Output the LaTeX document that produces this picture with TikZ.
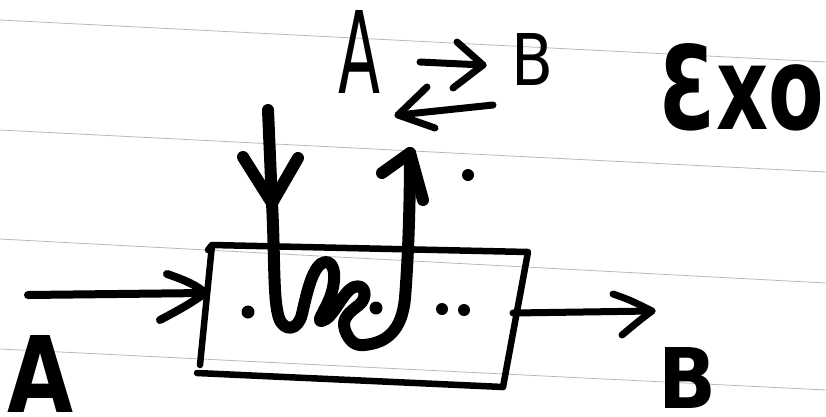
\documentclass[tikz,border=0pt]{standalone}
\usepackage{graphicx}
\usepackage{fontspec}
\newfontfamily\hand{DejaVu Sans}
\begin{document}
\begin{tikzpicture}[x=1pt,y=-1pt,
  pen/.style={line width=#1, line cap=round, line join=round, black},
  pen/.default=7,
  rule/.style={gray!55, line width=0.8pt},
  dot/.style={black},
  letter/.style={inner sep=0pt, outer sep=0pt, font=\hand}]
\useasboundingbox (0,0) rectangle (826,416);
\fill[white] (0,0) rectangle (826,416);
% ruled paper lines
\foreach \a/\b in {20/62,130/172,239/283,349/390}
  \draw[rule] (0,\a) -- (826,\b);

% box
\coordinate (TL) at (212,245);
\coordinate (TR) at (528,252);
\coordinate (BR) at (503,387);
\coordinate (BL) at (197,373);
\coordinate (LB) at (200,365);
\draw[pen=6.5] (208,250) -- (TL) -- (TR) -- (BR);
\draw[pen=6.5] (TL) -- (LB);
\draw[pen=6.5] (BL) -- (BR);

% input arrow
\coordinate (inStart) at (28,295);
\coordinate (inTip) at (205,293);
\draw[pen=8] (inStart) -- (inTip);
\draw[pen=8] (167,274) .. controls (185,280) and (198,286) .. (inTip)
  .. controls (192,303) and (175,312) .. (160,320);

% output arrow
\coordinate (outStart) at (513,313);
\coordinate (outTip) at (652,311);
\draw[pen=7] (outStart) -- (outTip);
\draw[pen=7] (613,294) .. controls (630,300) .. (outTip) .. controls (640,320) .. (622,335);

% U shaped flow with scribble
\coordinate (uIn) at (268,110);
\coordinate (uInTip) at (272,203);
\coordinate (uOut) at (410,153);
\draw[pen=12] (uIn) -- (uInTip) .. controls (275,260) and (273,300) .. (279,318)
  .. controls (284,332) and (298,331) .. (302,314)
  .. controls (307,292) and (313,264) .. (325,262)
  .. controls (337,261) and (336,284) .. (329,300)
  .. controls (324,312) and (316,322) .. (322,321)
  .. controls (334,318) and (342,292) .. (354,287)
  .. controls (366,283) and (368,298) .. (359,305)
  .. controls (350,312) and (341,318) .. (345,330)
  .. controls (349,341) and (355,346) .. (364,345)
  .. controls (387,343) and (402,330) .. (405,298)
  .. controls (408,260) and (410,210) .. (uOut);
\draw[pen=12] (243,157) -- (uInTip) -- (298,158);
\draw[pen=12] (382,173) -- (uOut) -- (423,200);

% dots
\fill[dot] (248,312) circle [radius=6.5];
\fill[dot] (376,308) circle [radius=6.5];
\fill[dot] (442,309) circle [radius=6];
\fill[dot] (464,310) circle [radius=6];
\fill[dot] (468,175) circle [radius=6];

% equilibrium text
\node[letter, anchor=north] (topA) at (359,10) {\resizebox{42pt}{83pt}{A}};
\node[letter, anchor=north] (topB) at (532,33) {\resizebox{42pt}{52pt}{B}};
\coordinate (f1) at (420,62);
\coordinate (f2) at (483,65);
\draw[pen=7] (f1) -- (f2);
\draw[pen=7] (457,42) -- (f2) -- (453,88);
\coordinate (b1) at (493,105);
\coordinate (b2) at (398,115);
\draw[pen=7] (b1) -- (b2);
\draw[pen=7] (427,87) -- (b2) -- (435,128);

% Exo
\node[letter, anchor=north] (exo) at (742,43) {\resizebox{164pt}{86pt}{\bfseries Ɛxo}};

% bottom labels
\node[letter, anchor=south] (botA) at (41,412) {\resizebox{66pt}{77pt}{\bfseries A}};
\node[letter, anchor=south] (botB) at (687,408) {\resizebox{58pt}{61pt}{\bfseries B}};
\end{tikzpicture}
\end{document}
